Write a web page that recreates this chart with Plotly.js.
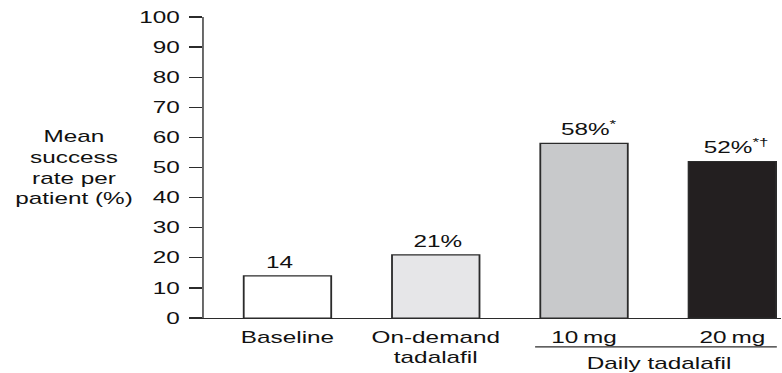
<!DOCTYPE html>
<html>
<head>
<meta charset="utf-8">
<script src="https://cdn.plot.ly/plotly-3.0.1.min.js"></script>
<style>
  html, body { margin: 0; padding: 0; background: #fff; overflow: hidden; }
  /* The artwork uses a horizontally widened type face; the whole chart is
     drawn narrower and stretched sideways so text and bars keep that look. */
  #chart { transform-origin: 0 0; }
</style>
</head>
<body>
<div id="chart"></div>
<script>
// Mean success rate per patient (%)
const categories = ["Baseline", "On-demand<br>tadalafil", "10\u2009mg", "20\u2009mg"];
const values = [14, 21, 58, 52];
const valueLabels = ["14", "21%", "58%<sup>*</sup>", "52%<sup>*\u2020</sup>"];
const groupLabel = "Daily tadalafil";
const groupMembers = [2, 3];
const yTicks = [0, 10, 20, 30, 40, 50, 60, 70, 80, 90, 100];

// Drawing style
const S = 1.52;                 // horizontal stretch of the whole figure
const W = 782 / S, H = 373;
const FONT = "Liberation Sans, Arial, Helvetica, sans-serif";
const INK = "#2b2b2b";
const barColors = ["#ffffff", "#e6e6e8", "#c8c9cb", "#231f20"];
const labelShift = [-8, 2, 5, 4];   // small sideways nudges of value labels

const el = document.getElementById("chart");
el.style.width = W + "px";
el.style.height = H + "px";
el.style.transform = "scaleX(" + S + ")";

const xIdx = categories.map((_, i) => i);

const trace = {
  type: "bar",
  x: xIdx,
  y: values,
  width: 0.59,
  marker: {
    color: barColors,
    line: { color: INK, width: 1.2 }
  },
  hoverinfo: "skip"
};

const annotations = values.map((v, i) => ({
  x: xIdx[i], y: v, xref: "x", yref: "y",
  text: valueLabels[i],
  showarrow: false,
  yanchor: "bottom",
  yshift: 3,
  xshift: labelShift[i] / S,
  font: { family: FONT, size: 16, color: "#111" }
}));

// y-axis caption, set horizontally left of the axis
annotations.push({
  xref: "paper", yref: "paper",
  x: -0.226, y: 0.5,
  xanchor: "center", yanchor: "middle",
  text: "Mean<br>success<br>rate per<br>patient (%)",
  align: "center",
  showarrow: false,
  font: { family: FONT, size: 16, color: "#111" }
});

// caption of the daily-dose group
const gMid = (xIdx[groupMembers[0]] + xIdx[groupMembers[groupMembers.length - 1]]) / 2;
annotations.push({
  xref: "x", yref: "paper",
  x: gMid, y: -0.15,
  xanchor: "center", yanchor: "middle",
  text: groupLabel,
  showarrow: false,
  font: { family: FONT, size: 16, color: "#111" }
});

const shapes = [{
  type: "line",
  xref: "x", yref: "paper",
  x0: xIdx[groupMembers[0]] - 0.33,
  x1: xIdx[groupMembers[groupMembers.length - 1]] + 0.30,
  y0: -0.096, y1: -0.096,
  line: { color: INK, width: 1.3 }
}];

const layout = {
  width: W,
  height: H,
  margin: { l: 203 / S, r: 0, t: 17, b: 55 },
  paper_bgcolor: "#ffffff",
  plot_bgcolor: "#ffffff",
  showlegend: false,
  font: { family: FONT, size: 16, color: "#111" },
  xaxis: {
    range: [-0.565, 3.33],
    tickmode: "array",
    tickvals: xIdx,
    ticktext: categories,
    ticks: "",
    ticklabelstandoff: 4,
    showline: true,
    linecolor: INK,
    linewidth: 1.4,
    showgrid: false,
    zeroline: false,
    fixedrange: true,
    tickfont: { family: FONT, size: 16, color: "#111" }
  },
  yaxis: {
    range: [0, 100],
    tickmode: "array",
    tickvals: yTicks,
    ticktext: yTicks.map(String),
    ticks: "outside",
    ticklen: 13 / S,
    tickwidth: 1.4,
    tickcolor: INK,
    ticklabelstandoff: 3,
    showline: true,
    linecolor: INK,
    linewidth: 1.4 / S,
    showgrid: false,
    zeroline: false,
    fixedrange: true,
    tickfont: { family: FONT, size: 16, color: "#111" }
  },
  annotations: annotations,
  shapes: shapes,
  bargap: 0.4
};

Plotly.newPlot(el, [trace], layout, { staticPlot: true, displayModeBar: false });
</script>
</body>
</html>
